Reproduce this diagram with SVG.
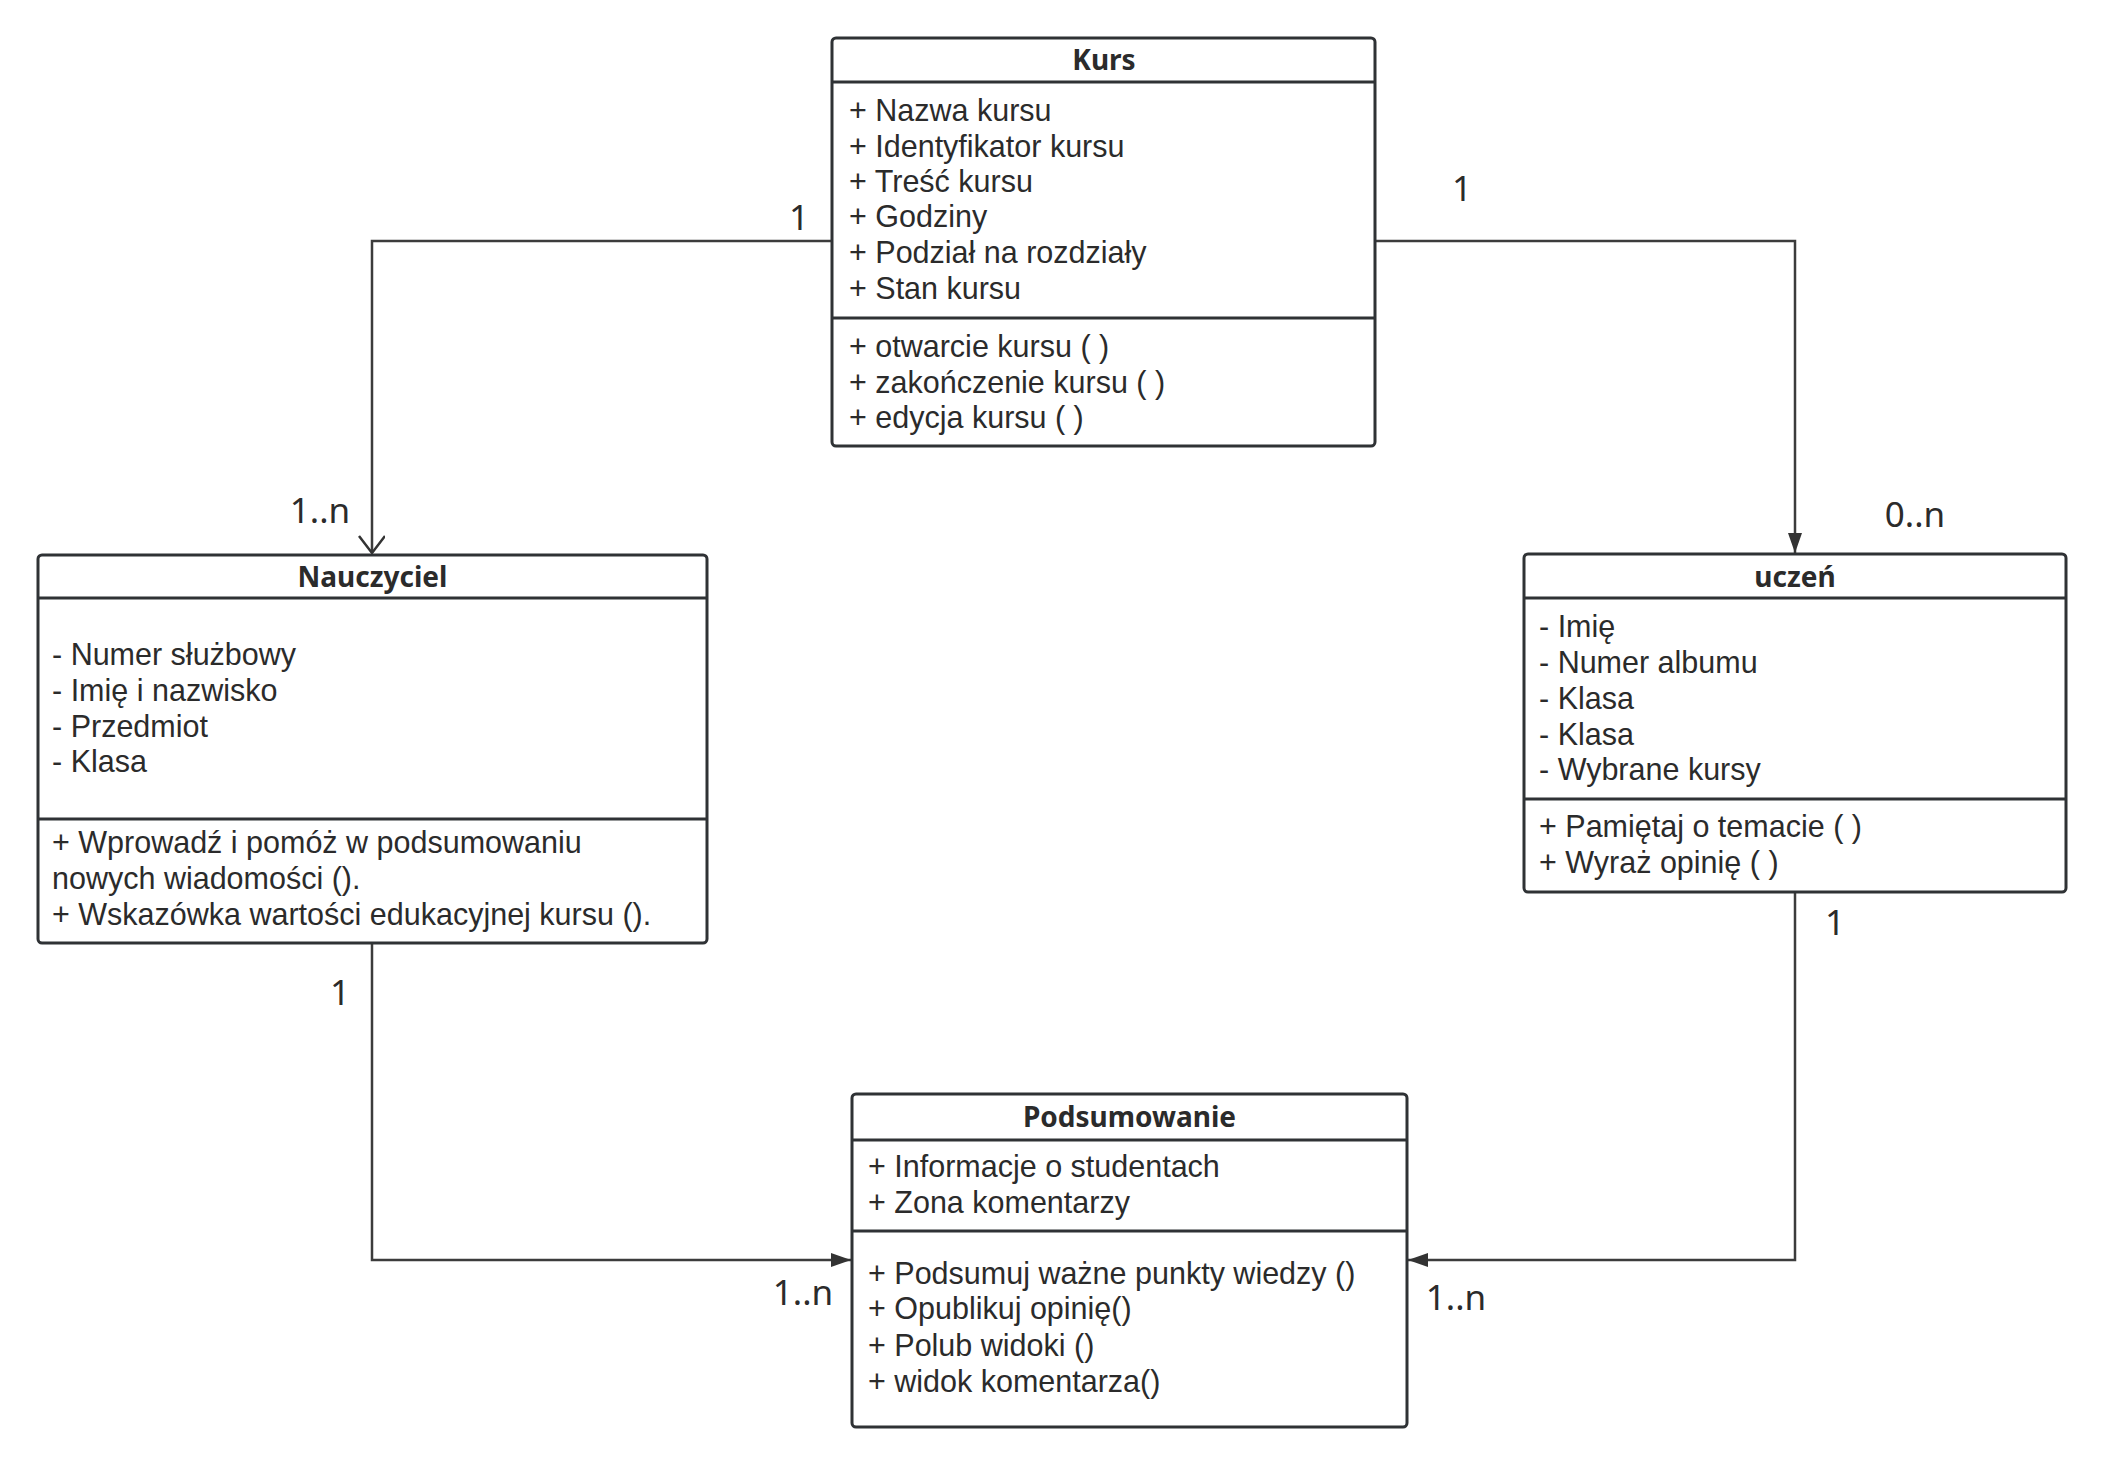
<svg xmlns="http://www.w3.org/2000/svg" width="2103" height="1463" viewBox="0 0 2103 1463">
<style>
.box{fill:#fff;stroke:#2f3235;stroke-width:3}
.div{stroke:#2f3235;stroke-width:3}
.t{font-family:"Liberation Sans",Arial,sans-serif;font-size:30.5px;fill:#2b2b2b}
.h{font-family:"Noto Sans","Open Sans",sans-serif;font-size:28px;font-weight:bold;fill:#2b2b2b;text-anchor:middle}
.lbl{font-family:"Noto Sans","Open Sans",sans-serif;font-size:35px;fill:#2b2b2b;text-anchor:middle}
.con{fill:none;stroke:#3c3c3c;stroke-width:2.5}
</style>
<defs>
<marker id="fill" markerUnits="userSpaceOnUse" markerWidth="22" markerHeight="16" refX="20" refY="7" orient="auto">
<path d="M0,0 L20,7 L0,14 z" fill="#333"/>
</marker>
<marker id="open" markerUnits="userSpaceOnUse" markerWidth="22" markerHeight="30" refX="18" refY="13" orient="auto">
<path d="M1,0 L18,13 L1,26" fill="none" stroke="#333" stroke-width="2.5"/>
</marker>
</defs>
<rect width="2103" height="1463" fill="#fff"/>

<g id="connectors">
<path class="con" d="M831,241 H372 V553" marker-end="url(#open)"/>
<path class="con" d="M1375,241 H1795 V553" marker-end="url(#fill)"/>
<path class="con" d="M372,943 V1260 H851" marker-end="url(#fill)"/>
<path class="con" d="M1795,892 V1260 H1408" marker-end="url(#fill)"/>
<text class="lbl" x="799" y="230">1</text>
<text class="lbl" x="320" y="523">1..n</text>
<text class="lbl" x="1462" y="201">1</text>
<text class="lbl" x="1915" y="527">0..n</text>
<text class="lbl" x="340" y="1005">1</text>
<text class="lbl" x="803" y="1305">1..n</text>
<text class="lbl" x="1835" y="935">1</text>
<text class="lbl" x="1456" y="1310">1..n</text>
</g>

<g id="kurs">
<rect class="box" x="832" y="38" width="543" height="408" rx="4"/>
<line class="div" x1="832" y1="82" x2="1375" y2="82"/>
<line class="div" x1="832" y1="318" x2="1375" y2="318"/>
<text class="h" x="1104" y="70">Kurs</text>
<text class="t" x="849" y="121">+ Nazwa kursu</text>
<text class="t" x="849" y="157">+ Identyfikator kursu</text>
<text class="t" x="849" y="192">+ Treść kursu</text>
<text class="t" x="849" y="227">+ Godziny</text>
<text class="t" x="849" y="263">+ Podział na rozdziały</text>
<text class="t" x="849" y="299">+ Stan kursu</text>
<text class="t" x="849" y="357">+ otwarcie kursu ( )</text>
<text class="t" x="849" y="393">+ zakończenie kursu ( )</text>
<text class="t" x="849" y="428">+ edycja kursu ( )</text>
</g>

<g id="nauczyciel">
<rect class="box" x="38" y="555" width="669" height="388" rx="4"/>
<line class="div" x1="38" y1="598" x2="707" y2="598"/>
<line class="div" x1="38" y1="819" x2="707" y2="819"/>
<text class="h" x="372.5" y="587">Nauczyciel</text>
<text class="t" x="52" y="665">- Numer służbowy</text>
<text class="t" x="52" y="701">- Imię i nazwisko</text>
<text class="t" x="52" y="737">- Przedmiot</text>
<text class="t" x="52" y="772">- Klasa</text>
<text class="t" x="52" y="853">+ Wprowadź i pomóż w podsumowaniu</text>
<text class="t" x="52" y="889">nowych wiadomości ().</text>
<text class="t" x="52" y="925">+ Wskazówka wartości edukacyjnej kursu ().</text>
</g>

<g id="uczen">
<rect class="box" x="1524" y="554" width="542" height="338" rx="4"/>
<line class="div" x1="1524" y1="598" x2="2066" y2="598"/>
<line class="div" x1="1524" y1="799" x2="2066" y2="799"/>
<text class="h" x="1795" y="587">uczeń</text>
<text class="t" x="1539" y="637">- Imię</text>
<text class="t" x="1539" y="673">- Numer albumu</text>
<text class="t" x="1539" y="709">- Klasa</text>
<text class="t" x="1539" y="745">- Klasa</text>
<text class="t" x="1539" y="780">- Wybrane kursy</text>
<text class="t" x="1539" y="837">+ Pamiętaj o temacie ( )</text>
<text class="t" x="1539" y="873">+ Wyraż opinię ( )</text>
</g>

<g id="podsumowanie">
<rect class="box" x="852" y="1094" width="555" height="333" rx="4"/>
<line class="div" x1="852" y1="1140" x2="1407" y2="1140"/>
<line class="div" x1="852" y1="1231" x2="1407" y2="1231"/>
<text class="h" x="1129.5" y="1127">Podsumowanie</text>
<text class="t" x="868" y="1177">+ Informacje o studentach</text>
<text class="t" x="868" y="1213">+ Zona komentarzy</text>
<text class="t" x="868" y="1284">+ Podsumuj ważne punkty wiedzy ()</text>
<text class="t" x="868" y="1319">+ Opublikuj opinię()</text>
<text class="t" x="868" y="1356">+ Polub widoki ()</text>
<text class="t" x="868" y="1392">+ widok komentarza()</text>
</g>
</svg>
